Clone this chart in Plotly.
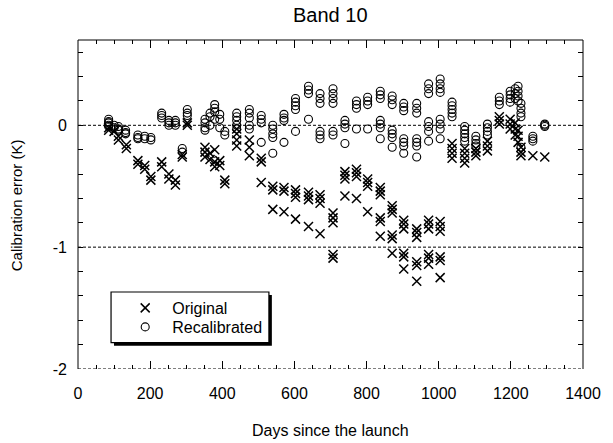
import plotly.graph_objects as go

# ---------------- data ----------------
recal_days = [85, 100, 112, 132, 166, 185, 202, 232, 252, 270, 289, 303,
              352, 366, 379, 393, 407, 440, 475, 508, 540, 571, 603, 639,
              671, 707, 740, 772, 803, 838, 871, 903, 939, 972, 1004, 1037,
              1072, 1103, 1135, 1168, 1198, 1212, 1220, 1228, 1261, 1294]
recal_vals = [
    [0.05, 0.03, 0.02, 0.0, -0.01],
    [0.0, -0.02],
    [-0.01, -0.03, -0.04],
    [-0.04, -0.06, -0.07],
    [-0.08, -0.10, -0.11],
    [-0.09, -0.11],
    [-0.10, -0.12],
    [0.10, 0.08, 0.06],
    [0.04, 0.02, 0.0],
    [0.04, 0.02, 0.0],
    [-0.19, -0.22],
    [0.13, 0.10, 0.08],
    [0.05, 0.02, -0.02, -0.04],
    [0.10, 0.07, 0.0],
    [0.17, 0.14, 0.11, 0.05],
    [0.09, 0.05, -0.02],
    [-0.05, -0.08],
    [0.10, 0.07, 0.04, 0.0, -0.03],
    [0.13, 0.10, 0.06, 0.0, -0.03],
    [0.08, 0.05, 0.02, -0.14],
    [0.0, -0.03, -0.07, -0.10, -0.23],
    [0.09, 0.06, 0.04, -0.14],
    [0.22, 0.19, 0.16, 0.13, -0.05],
    [0.32, 0.29, 0.26, 0.05],
    [0.26, 0.22, 0.18, -0.05, -0.08, -0.11],
    [0.30, 0.26, 0.22, 0.18, -0.05, -0.08],
    [0.04, 0.01, -0.02, -0.15],
    [0.20, 0.17, 0.14, -0.03],
    [0.23, 0.20, 0.17, -0.03],
    [0.28, 0.25, 0.22, 0.04, 0.01, -0.02, -0.11],
    [0.24, 0.21, 0.17, -0.04, -0.07, -0.10, -0.18],
    [0.18, 0.15, 0.12, -0.11, -0.14, -0.17, -0.23],
    [0.18, 0.14, 0.10, -0.11, -0.14, -0.17, -0.26],
    [0.34, 0.30, 0.26, 0.03, -0.01, -0.05, -0.13],
    [0.38, 0.34, 0.30, 0.27, 0.05, 0.01, -0.03, -0.11],
    [0.19, 0.16, 0.13, 0.10, 0.07],
    [-0.01, -0.04, -0.07, -0.10, -0.13],
    [-0.09, -0.12, -0.15, -0.17],
    [0.01, -0.02, -0.05, -0.08],
    [0.23, 0.20, 0.17],
    [0.28, 0.25, 0.22, 0.19],
    [0.30, 0.26, 0.22],
    [0.32, 0.28, 0.24, 0.20],
    [0.18, 0.14, 0.10, 0.07, -0.18],
    [-0.09, -0.11, -0.13],
    [0.01, 0.0, -0.01],
]

orig_days = [85, 100, 112, 134, 166, 185, 202, 232, 252, 270, 289, 303,
             352, 366, 379, 393, 407, 440, 475, 508, 540, 571, 603, 639,
             671, 707, 740, 772, 803, 838, 871, 903, 939, 972, 1004, 1037,
             1072, 1103, 1135, 1168, 1198, 1212, 1220, 1228, 1261, 1294]
orig_vals = [
    [-0.02, -0.04],
    [-0.05],
    [-0.09, -0.12],
    [-0.16, -0.19],
    [-0.29, -0.32],
    [-0.33, -0.36],
    [-0.42, -0.45],
    [-0.30, -0.34],
    [-0.40, -0.44],
    [-0.45, -0.49],
    [-0.24, -0.26],
    [0.0, 0.02],
    [-0.18, -0.22, -0.26],
    [-0.23, -0.28],
    [-0.20, -0.30, -0.34],
    [-0.29, -0.33],
    [-0.45, -0.48],
    [-0.03, -0.07, -0.12, -0.17],
    [-0.12, -0.18, -0.25],
    [-0.27, -0.30, -0.47],
    [-0.50, -0.53, -0.69],
    [-0.51, -0.54, -0.71],
    [-0.53, -0.56, -0.59, -0.77],
    [-0.55, -0.58, -0.61, -0.83],
    [-0.57, -0.60, -0.64, -0.89],
    [-0.72, -0.76, -0.80, -1.06, -1.09],
    [-0.38, -0.41, -0.44, -0.58],
    [-0.36, -0.39, -0.42, -0.60],
    [-0.44, -0.47, -0.50, -0.71],
    [-0.51, -0.54, -0.57, -0.76, -0.79, -0.91],
    [-0.66, -0.69, -0.72, -0.90, -0.93, -1.05],
    [-0.78, -0.81, -0.85, -1.05, -1.08, -1.18],
    [-0.85, -0.88, -0.92, -1.12, -1.15, -1.28],
    [-0.78, -0.81, -0.85, -1.06, -1.09, -1.14],
    [-0.79, -0.83, -0.87, -1.08, -1.11, -1.25],
    [-0.15, -0.19, -0.23, -0.27],
    [-0.19, -0.23, -0.27, -0.31],
    [-0.19, -0.22, -0.25],
    [-0.13, -0.17, -0.21],
    [0.07, 0.04, 0.01],
    [0.05, 0.01, -0.03],
    [0.02, -0.03, -0.08],
    [-0.04, -0.09, -0.14],
    [-0.18, -0.22, -0.25],
    [-0.25],
    [-0.26],
]

x_ticks = [0, 200, 400, 600, 800, 1000, 1200, 1400]
y_label_ticks = [-2, -1, 0]
ref_lines = [0, -1, -2]
series_names = ["Original", "Recalibrated"]
title_text = "Band 10"
x_title = "Days since the launch"
y_title = "Calibration error (K)"


def expand(days, vals):
    xs, ys = [], []
    for d, vs in zip(days, vals):
        for v in vs:
            xs.append(d)
            ys.append(v)
    return xs, ys


ox, oy = expand(orig_days, orig_vals)
rx, ry = expand(recal_days, recal_vals)

FONT = "Liberation Sans, Arial, sans-serif"
L, R, T, B = 78, 20, 40, 74
PW, PH = 613 - L - R, 443 - T - B


def px_x(p):
    return (p - L) / PW


def px_y(p):
    return (443 - B - p) / PH


fig = go.Figure()
fig.add_trace(go.Scatter(
    x=ox, y=oy, mode="markers", name=series_names[0], legend="legend",
    marker=dict(symbol="x-thin-open", size=9, color="black",
                line=dict(color="black", width=1.5)),
))
fig.add_trace(go.Scatter(
    x=rx, y=ry, mode="markers", name=series_names[1], legend="legend2",
    marker=dict(symbol="circle-open", size=8, color="black",
                line=dict(color="black", width=1.1)),
))

# y ticks every 0.2, labels only on integers
y_tick_vals = [round(-2 + 0.2 * i, 1) for i in range(14)]
y_tick_text = [str(int(round(v))) if abs(v - round(v)) < 1e-9 and int(round(v)) in y_label_ticks else "" for v in y_tick_vals]

shapes = []
# frame: solid top, left, right
for (x0, y0, x1, y1) in [(0, 1, 1, 1), (0, 0, 0, 1), (1, 0, 1, 1)]:
    shapes.append(dict(type="line", xref="paper", yref="paper",
                       x0=x0, y0=y0, x1=x1, y1=y1,
                       line=dict(color="black", width=1)))
# dashed reference lines
for yv in ref_lines:
    shapes.append(dict(type="line", xref="paper", yref="y",
                       x0=0, x1=1, y0=yv, y1=yv,
                       line=dict(color="black", width=1, dash="3px,2px")))
# legend box with shadow
bx0, bx1, by0, by1 = px_x(111.7), px_x(272.7), px_y(342.7), px_y(292)
dx, dy = 3 / PW, 3 / PH
shapes.append(dict(type="rect", xref="paper", yref="paper",
                   x0=bx0 + dx, x1=bx1 + dx, y0=by0 - dy, y1=by1 - dy,
                   fillcolor="black", line=dict(width=0), layer="above"))
shapes.append(dict(type="rect", xref="paper", yref="paper",
                   x0=bx0, x1=bx1, y0=by0, y1=by1,
                   fillcolor="white", line=dict(color="black", width=1.2),
                   layer="above"))

leg_common = dict(xanchor="left", yanchor="middle",
                  bgcolor="rgba(0,0,0,0)", borderwidth=0,
                  font=dict(family=FONT, size=16, color="black"),
                  itemwidth=44)

fig.update_layout(
    width=613, height=443,
    margin=dict(l=L, r=R, t=T, b=B),
    paper_bgcolor="white", plot_bgcolor="white",
    font=dict(family=FONT, size=16, color="black"),
    showlegend=True,
    legend=dict(x=px_x(119), y=px_y(308), **leg_common),
    legend2=dict(x=px_x(119), y=px_y(327), **leg_common),
    xaxis=dict(range=[0, 1400], tickvals=x_ticks, ticks="inside",
               ticklen=8, tickwidth=1, tickcolor="black",
               showline=False, mirror="ticks", showgrid=False,
               zeroline=False, ticklabelstandoff=13,
               tickfont=dict(family=FONT, size=16),
               minor=dict(dtick=50, ticks="inside", ticklen=4,
                          tickcolor="black", tickwidth=1, showgrid=False)),
    yaxis=dict(range=[-2, 0.7], tickvals=y_tick_vals, ticktext=y_tick_text,
               ticks="inside", ticklen=5, tickwidth=1, tickcolor="black",
               showline=False, mirror="ticks", showgrid=False,
               zeroline=False, ticklabelstandoff=10,
               tickfont=dict(family=FONT, size=16)),
    shapes=shapes,
    annotations=[
        dict(text=title_text, xref="paper", yref="paper", x=0.5,
             y=px_y(15), xanchor="center", yanchor="middle",
             font=dict(family=FONT, size=20), showarrow=False),
        dict(text=x_title, xref="paper", yref="paper", x=0.5,
             y=px_y(430), xanchor="center", yanchor="middle",
             font=dict(family=FONT, size=16), showarrow=False),
        dict(text=y_title, xref="paper", yref="paper",
             x=px_x(15), y=px_y(205),
             xanchor="center", yanchor="middle", textangle=-90,
             font=dict(family=FONT, size=15), showarrow=False),
    ],
)

fig.write_html("out.html",
               config={"displayModeBar": False},
               post_script="document.body.style.margin='0';document.body.style.overflow='hidden';")
